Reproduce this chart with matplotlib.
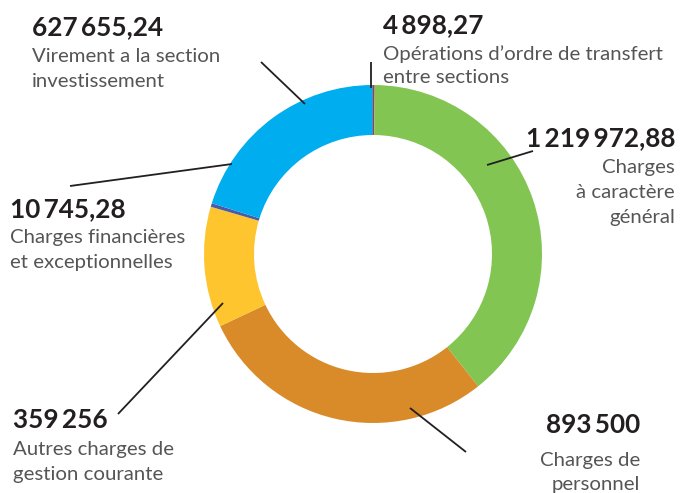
import matplotlib
matplotlib.use("Agg")
import matplotlib.pyplot as plt

categories = ["Opérations d’ordre de transfert\nentre sections",
              "Charges\nà caractère\ngénéral",
              "Charges de\npersonnel",
              "Autres charges de\ngestion courante",
              "Charges financières\net exceptionnelles",
              "Virement a la section\ninvestissement"]
values = [4898.27, 1219972.88, 893500, 359256, 10745.28, 627655.24]
value_labels = ["4 898,27", "1 219 972,88", "893 500", "359 256", "10 745,28", "627 655,24"]
colors = ["#d9262c", "#82c553", "#da8b29", "#fec52e", "#4a5ba7", "#00adef"]

plt.rcParams['font.family'] = ['Lato', 'DejaVu Sans']

fig = plt.figure(figsize=(6.82, 4.93), dpi=100)
ax = fig.add_axes([0, 0, 1, 1])
ax.pie(values, colors=colors, startangle=-90, counterclock=True,
       center=(373, 254), radius=169, frame=False,
       wedgeprops=dict(width=50, linewidth=0))
ax.set_xlim(0, 682)
ax.set_ylim(493, 0)
ax.set_aspect('equal')
ax.axis('off')

# label layout: (x, number baseline, desc baselines, ha)
layout = [
    (383, 33, [60, 83], 'left'),
    (675, 146, [173, 198, 223], 'right'),
    (640, 433, [466, 490], 'right'),
    (13, 428, [455, 480], 'left'),
    (10, 217, [243, 268], 'left'),
    (32, 35, [62, 87], 'left'),
]
leaders = [
    ((371, 62), (371, 88)),
    ((487, 165), (533, 151)),
    ((410, 408), (466, 452)),
    ((118, 414), (223, 303)),
    ((70, 186), (232, 164)),
    ((261, 62), (305, 104)),
]

for cat, vl, (x, nb, dbs, ha), (p0, p1) in zip(categories, value_labels, layout, leaders):
    ax.text(x, nb, vl.replace(" ", "\u2009"), ha=ha, va='baseline', fontsize=18.8,
            fontweight='bold', color='#231f20')
    for line, b in zip(cat.split("\n"), dbs):
        ax.text(x, b, line, ha=ha, va='baseline', fontsize=14.7, fontweight='normal', color='#555555')
    ax.plot([p0[0], p1[0]], [p0[1], p1[1]], color='#231f20', lw=1.3, solid_capstyle='butt')

fig.savefig("out.png", dpi=100)
